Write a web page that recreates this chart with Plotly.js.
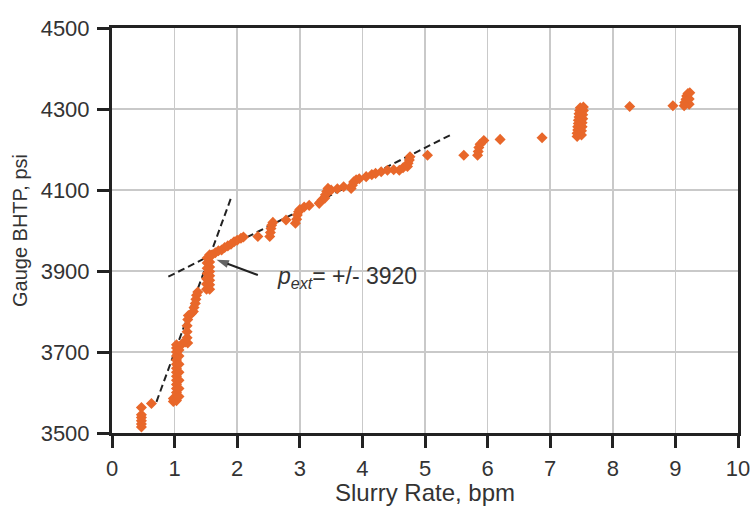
<!DOCTYPE html>
<html>
<head>
<meta charset="utf-8">
<script src="https://cdn.plot.ly/plotly-3.0.1.min.js"></script>
<style>html,body{margin:0;padding:0;background:#fff;}#chart{width:753px;height:506px;}</style>
</head>
<body>
<div id="chart"></div>
<script>
// Slurry rate (bpm) and gauge BHTP (psi) readings
var rateX = [
  0.47,0.47,0.47,0.47,0.47,0.47,0.63,
  0.98,0.98,
  1.03,1.03,1.03,1.03,1.03,1.03,1.03,1.03,1.03,1.03,1.03,1.03,1.03,1.03,1.03,
  1.07,1.07,1.07,1.07,1.07,1.07,1.07,
  1.12,1.17,1.21,1.20,1.20,1.20,1.21,1.22,
  1.27,1.30,1.31,1.33,1.34,1.35,1.37,
  1.51,1.51,1.51,1.52,1.52,1.52,1.52,
  1.56,1.56,1.56,1.56,1.56,1.56,1.56,1.56,
  1.60,1.65,1.70,1.75,1.80,1.85,1.90,1.95,2.00,2.06,2.10,
  2.33,
  2.52,2.53,2.54,2.55,2.57,
  2.78,
  2.93,2.95,2.96,2.98,3.00,3.07,3.15,
  3.31,3.35,
  3.40,3.41,3.43,3.45,3.50,3.60,3.70,
  3.82,3.84,3.86,3.90,3.95,
  4.06,4.15,4.21,4.30,4.40,4.50,4.59,4.65,
  4.72,4.73,4.75,4.76,
  5.04,
  5.62,
  5.84,5.85,5.86,5.88,5.94,
  6.20,
  6.87,
  7.43,7.43,7.44,7.44,7.45,7.45,7.46,7.46,7.47,7.48,
  7.50,7.50,7.51,7.51,7.52,7.52,7.53,7.53,
  8.27,
  8.96,
  9.14,9.15,9.17,9.18,9.20,9.22,9.22,9.23
];
var bhtpY = [
  3515,3522,3530,3538,3545,3563,3573,
  3578,3585,
  3580,3590,3600,3610,3620,3630,3640,3650,3660,3670,3680,3690,3700,3710,3718,
  3590,3610,3630,3650,3670,3690,3705,
  3720,3725,3722,3735,3750,3765,3780,3790,
  3795,3800,3810,3820,3830,3840,3848,
  3855,3868,3881,3894,3907,3920,3932,
  3855,3866,3877,3888,3899,3910,3922,3940,
  3940,3945,3950,3952,3958,3962,3966,3972,3976,3981,3984,
  3985,
  3985,3995,4005,4013,4020,
  4026,
  4018,4028,4038,4046,4052,4058,4062,
  4067,4075,
  4080,4088,4096,4104,4100,4103,4108,
  4104,4112,4120,4125,4128,
  4133,4138,4141,4145,4149,4150,4149,4155,
  4158,4166,4174,4182,
  4186,
  4186,
  4186,4195,4205,4213,4222,
  4225,
  4229,
  4232,4240,4248,4256,4264,4272,4280,4288,4296,4303,
  4236,4246,4256,4266,4276,4286,4296,4305,
  4306,
  4308,
  4308,4316,4324,4332,4338,4312,4325,4340
];
// Dashed straight-line fits (endpoints)
var steepFitX = [0.71, 1.91];
var steepFitY = [3577, 4084];
var flatFitX = [0.90, 5.41];
var flatFitY = [3886, 4236];
// Extension pressure pointer: tail then head
var pointerX = [2.33, 1.67];
var pointerY = [3890, 3928];
var labelPos = [2.60, 3884];
var xTicks = [0,1,2,3,4,5,6,7,8,9,10];
var yTicks = [3500,3700,3900,4100,4300,4500];

var fontFam = '"Liberation Sans", Arial, Helvetica, sans-serif';
var ink = '#222';
var textCol = '#333';

var traces = [
  {x: steepFitX, y: steepFitY, mode: 'lines', type: 'scatter',
   line: {color: ink, width: 2, dash: '7px,4px'}, hoverinfo: 'skip', showlegend: false},
  {x: flatFitX, y: flatFitY, mode: 'lines', type: 'scatter',
   line: {color: ink, width: 2, dash: '7px,4px'}, hoverinfo: 'skip', showlegend: false},
  {x: rateX, y: bhtpY, mode: 'markers', type: 'scatter',
   marker: {symbol: 'diamond', size: 8.5, color: '#E8672A', line: {width: 0}}, showlegend: false},
  {x: pointerX, y: pointerY, mode: 'lines+markers', type: 'scatter',
   line: {color: ink, width: 2},
   marker: {symbol: 'arrow', size: [0, 13], color: ink, angleref: 'previous', line: {width: 0}},
   hoverinfo: 'skip', showlegend: false}
];

var axisCommon = {
  showgrid: true, gridcolor: '#c9c9c9', gridwidth: 1.5,
  showline: true, linecolor: ink, linewidth: 3, mirror: true,
  ticks: 'outside', ticklen: 12, tickwidth: 3, tickcolor: ink,
  zeroline: false,
  tickfont: {family: fontFam, size: 22, color: textCol}
};

var layout = {
  width: 753, height: 506,
  margin: {l: 112, r: 15, t: 28, b: 73},
  paper_bgcolor: '#fff', plot_bgcolor: '#fff',
  showlegend: false,
  xaxis: Object.assign({}, axisCommon, {
    range: [0, 10], tickvals: xTicks, ticktext: xTicks.map(String),
    ticklabelstandoff: 2,
    title: {text: 'Slurry Rate, bpm', font: {family: fontFam, size: 24, color: textCol}, standoff: 2}
  }),
  yaxis: Object.assign({}, axisCommon, {
    range: [3500, 4500], tickvals: yTicks, ticktext: yTicks.map(String),
    ticklabelstandoff: 3,
    title: {text: 'Gauge BHTP, psi', font: {family: fontFam, size: 20, color: textCol}, standoff: 8}
  }),
  annotations: [
    {x: labelPos[0], y: labelPos[1], xref: 'x', yref: 'y', xanchor: 'left', yanchor: 'middle',
     showarrow: false, text: '<i>p</i><sub><i>ext</i></sub>= +/- 3920',
     font: {family: fontFam, size: 23, color: textCol}}
  ]
};

Plotly.newPlot('chart', traces, layout, {displayModeBar: false, staticPlot: true});
</script>
</body>
</html>
